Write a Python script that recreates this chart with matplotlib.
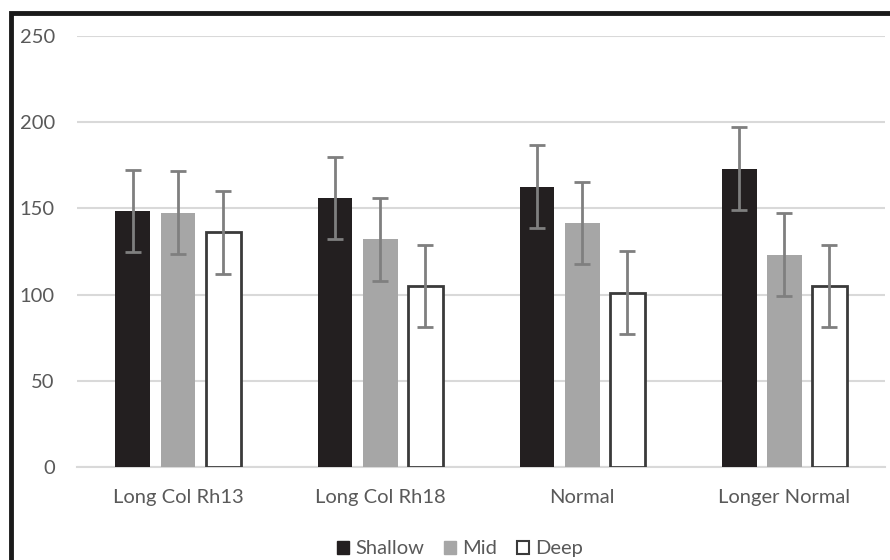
import matplotlib
matplotlib.use('Agg')
import matplotlib.pyplot as plt
import numpy as np
from matplotlib.patches import Rectangle, Patch

categories = ['Long Col Rh13', 'Long Col Rh18', 'Normal', 'Longer Normal']
shallow = [148.5, 156, 162.5, 173]
mid = [147.5, 132, 141.5, 123]
deep = [136, 105, 101, 105]
shallow_err = [24, 24, 24, 24]
mid_err = [24, 24, 24, 24]
deep_err = [24, 24, 24, 24]

plt.rcParams['font.family'] = ['Lato', 'DejaVu Sans']

fig = plt.figure(figsize=(8.9, 5.6), dpi=100)
ax = fig.add_axes([0.0865, 0.166, 0.908, 0.77])

x = np.arange(len(categories))
w = 0.173
step = 0.223
err_kw = dict(ecolor='#7f7f7f', elinewidth=2, capsize=5.5, capthick=2)

ax.bar(x - step, shallow, w, color='#231f20', yerr=shallow_err, error_kw=err_kw, zorder=3)
ax.bar(x, mid, w, color='#a6a6a6', yerr=mid_err, error_kw=err_kw, zorder=3)
ax.bar(x + step, deep, w, color='white', edgecolor='#3a3a3a', linewidth=2,
       yerr=deep_err, error_kw=err_kw, zorder=3)

ax.set_xlim(-0.5, 3.5)
ax.set_ylim(0, 250)
ax.set_yticks(range(0, 251, 50))
ax.set_xticks(x)
ax.set_xticklabels(categories)
ax.grid(axis='y', color='#d9d9d9', lw=1.5, zorder=0)
ax.set_axisbelow(True)
for s in ['top', 'right', 'left']:
    ax.spines[s].set_visible(False)
ax.spines['bottom'].set_color('#d9d9d9')
ax.spines['bottom'].set_linewidth(1.5)
ax.tick_params(axis='both', length=0, labelsize=14.5, labelcolor='#595959')
ax.tick_params(axis='y', pad=16)
ax.tick_params(axis='x', pad=16)

# legend squares
handles = [Patch(facecolor='#231f20', edgecolor='#231f20'),
           Patch(facecolor='#a6a6a6', edgecolor='#a6a6a6'),
           Patch(facecolor='white', edgecolor='#3a3a3a', linewidth=1.5)]
fig.legend(handles, ['Shallow', 'Mid', 'Deep'], loc='center', bbox_to_anchor=(0.517, 0.02),
           ncol=3, frameon=False, fontsize=14.5, labelcolor='#595959',
           handlelength=0.6, handleheight=0.6, handletextpad=0.3, columnspacing=1.0)

# outer frame
fig.patches.append(Rectangle((0.0125, -0.05), 1.1, 1.027, transform=fig.transFigure,
                             fill=False, edgecolor='#1a1a1a', linewidth=3.5, clip_on=False))

fig.savefig('out.png', dpi=100)
